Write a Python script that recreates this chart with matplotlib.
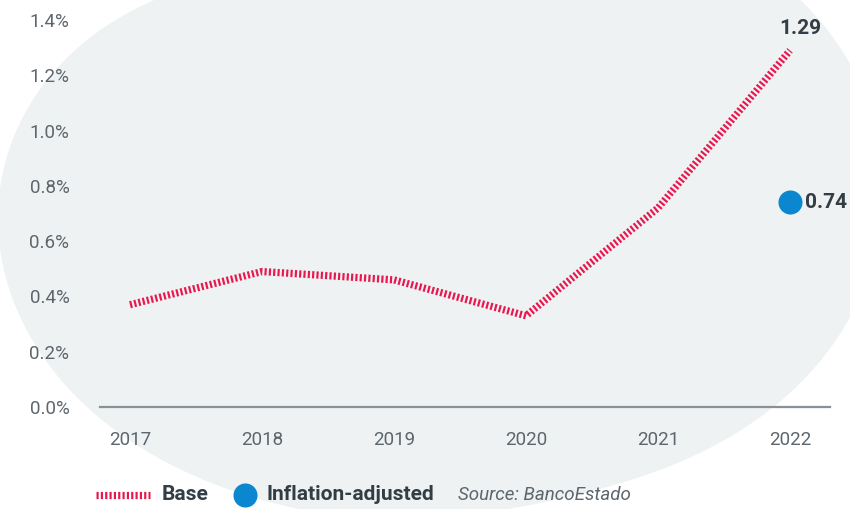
import numpy as np
import matplotlib.pyplot as plt
from matplotlib.lines import Line2D

# values (%)
years = [2017, 2018, 2019, 2020, 2021, 2022]
base = [0.37, 0.49, 0.46, 0.33, 0.72, 1.29]
adj_years = [2022]
adj = [0.74]
yticks = [0.0, 0.2, 0.4, 0.6, 0.8, 1.0, 1.2, 1.4]
ytick_labels = ["0.0%", "0.2%", "0.4%", "0.6%", "0.8%", "1.0%", "1.2%", "1.4%"]

red = "#e8184f"
blue = "#0a87cf"
dark = "#333d45"
grey = "#5d666c"

plt.rcParams['font.family'] = ['Roboto', 'DejaVu Sans']

# edge of the decorative background blob, in image pixels (y down)
blob_x = [-8, 0, 33, 100, 173, 320, 500, 690, 813, 850, 875, 850, 783, 700, 600, 450, 300, 200, 100, 33, 0]
blob_y = [213, 157, 100, 33, 0, -45, -80, -55, 0, 47, 180, 310, 400, 457, 490, 512, 507, 493, 400, 333, 265]


def smooth_blob(xs, ys, cx=430, cy=230, harmonics=4, n=400):
    # fit a smooth polar outline r(theta) through the edge points
    xs = np.asarray(xs, float) - cx
    ys = np.asarray(ys, float) - cy
    th = np.arctan2(ys, xs)
    r = np.hypot(xs, ys)

    def basis(t):
        cols = [np.ones_like(t)]
        for k in range(1, harmonics + 1):
            cols += [np.cos(k * t), np.sin(k * t)]
        return np.column_stack(cols)

    coef, *_ = np.linalg.lstsq(basis(th), r, rcond=None)
    t = np.linspace(-np.pi, np.pi, n)
    rr = basis(t) @ coef
    return cx + rr * np.cos(t), cy + rr * np.sin(t)


fig = plt.figure(figsize=(8.5, 5.09), dpi=100)

bg = fig.add_axes([0, 0, 1, 1], zorder=0)
bg.set_xlim(0, 850)
bg.set_ylim(509, 0)
bg.axis('off')
bx, by = smooth_blob(blob_x, blob_y)
bg.fill(bx, by, color="#eef2f3", lw=0)

ax = fig.add_axes([100 / 850, 102 / 509, 730 / 850, 387 / 509], zorder=1)
ax.patch.set_visible(False)

ax.plot(years, base, color=red, lw=5.2, dashes=(0.3, 0.3),
        solid_capstyle='butt', dash_capstyle='butt')
ax.scatter(adj_years, adj, s=300, color=blue, zorder=3, lw=0)

ax.annotate(f"{base[-1]:.2f}", (years[-1], base[-1]), xytext=(10, 22),
            textcoords='offset pixels', ha='center', va='center',
            fontsize=15, fontweight='bold', color=dark, annotation_clip=False)
ax.annotate(f"{adj[0]:.2f}", (adj_years[0], adj[0]), xytext=(15, 0),
            textcoords='offset pixels', ha='left', va='center',
            fontsize=15, fontweight='bold', color=dark, annotation_clip=False)

ax.set_xlim(2017 - 0.227, 2022 + 0.303)
ax.set_ylim(0, 1.4)
ax.set_xticks(years)
ax.set_xticklabels([str(y) for y in years])
ax.set_yticks(yticks)
ax.set_yticklabels(ytick_labels)
ax.tick_params(axis='both', length=0, labelsize=13.5, labelcolor=grey)
ax.tick_params(axis='x', pad=17)
ax.tick_params(axis='y', pad=22)

for s in ['top', 'right', 'left']:
    ax.spines[s].set_visible(False)
ax.spines['bottom'].set_color("#8a9196")
ax.spines['bottom'].set_linewidth(1.6)

# legend row along the bottom, drawn in pixel coordinates
ly = 495
bg.add_line(Line2D([96, 150], [ly, ly], color=red, lw=5.2, dashes=(0.3, 0.3),
                   dash_capstyle='butt'))
bg.text(162, ly, "Base", ha='left', va='center', fontsize=15,
        fontweight='bold', color=dark)
bg.scatter([245], [ly], s=300, color=blue, lw=0)
bg.text(267, ly, "Inflation-adjusted", ha='left', va='center', fontsize=15,
        fontweight='bold', color=dark)
bg.text(458, ly, "Source: BancoEstado", ha='left', va='center', fontsize=13.5,
        style='italic', color=grey)

fig.savefig("out.png", dpi=100)
